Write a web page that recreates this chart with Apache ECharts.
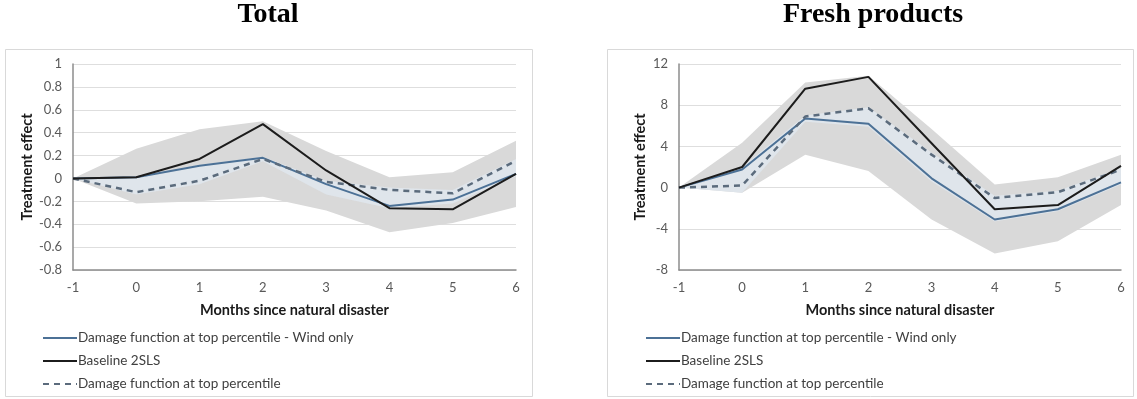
<!DOCTYPE html>
<html>
<head>
<meta charset="utf-8">
<script src="https://cdn.jsdelivr.net/npm/echarts@6/dist/echarts.min.js"></script>
<style>
html,body{margin:0;padding:0;background:#fff;}
#chart{width:1137px;height:399px;}
</style>
</head>
<body>
<div id="chart"></div>
<script>
// ---- data ----
var months = ['-1', '0', '1', '2', '3', '4', '5', '6'];

var totalWind     = [0, 0.01, 0.11, 0.18, -0.05, -0.24, -0.185, 0.04];
var totalBaseline = [0, 0.01, 0.17, 0.475, 0.07, -0.26, -0.27, 0.04];
var totalDamage   = [0, -0.12, -0.02, 0.17, -0.03, -0.10, -0.13, 0.155];
var totalCiUpper  = [0, 0.26, 0.43, 0.50, 0.24, 0.01, 0.055, 0.33];
var totalCiLower  = [0, -0.22, -0.20, -0.16, -0.28, -0.47, -0.39, -0.25];
var totalInUpper  = [0, 0.02, 0.12, 0.19, -0.02, -0.08, -0.10, 0.17];
var totalInLower  = [0, -0.14, -0.05, 0.15, -0.14, -0.26, -0.22, 0.02];

var freshWind     = [0, 1.75, 6.7, 6.2, 0.9, -3.1, -2.1, 0.5];
var freshBaseline = [0, 2.0, 9.6, 10.75, 4.3, -2.1, -1.7, 2.1];
var freshDamage   = [0, 0.2, 6.9, 7.7, 3.2, -1.0, -0.45, 1.75];
var freshCiUpper  = [0, 4.35, 10.2, 10.85, 5.7, 0.3, 1.0, 3.2];
var freshCiLower  = [0, -0.5, 3.2, 1.6, -3.1, -6.4, -5.2, -1.7];
var freshInUpper  = [0, 2.0, 7.0, 7.8, 3.4, -0.8, -0.3, 1.9];
var freshInLower  = [0, -0.5, 6.4, 5.9, 0.6, -3.3, -2.3, 0.3];

var titles = ['Total', 'Fresh products'];
var yAxisTitle = 'Treatment effect';
var xAxisTitle = 'Months since natural disaster';
var nameWind = 'Damage function at top percentile - Wind only';
var nameBase = 'Baseline 2SLS';
var nameDmg  = 'Damage function at top percentile';

// ---- build ----
function diff(u,l){ return u.map(function(x,i){ return +(x - l[i]).toFixed(4); }); }

var FONT = 'Lato';
var cGrey = '#d9d9d9', cInner = '#dfe6ec';
var cBlue = '#4c7196', cBlack = '#1c1c1c', cDash = '#5b6b7c';

function panelSeries(idx, wind, base, dmg, ciU, ciL, inU, inL){
  var common = {xAxisIndex: idx, yAxisIndex: idx, type: 'line', symbol: 'none', silent: true};
  return [
    Object.assign({}, common, {name: 'ciL'+idx, data: ciL, stack: 'ci'+idx, stackStrategy: 'all', lineStyle: {opacity: 0}}),
    Object.assign({}, common, {name: 'ciD'+idx, data: diff(ciU, ciL), stack: 'ci'+idx, stackStrategy: 'all', lineStyle: {opacity: 0}, areaStyle: {color: cGrey, opacity: 1}}),
    Object.assign({}, common, {name: 'inL'+idx, data: inL, stack: 'in'+idx, stackStrategy: 'all', lineStyle: {opacity: 0}}),
    Object.assign({}, common, {name: 'inD'+idx, data: diff(inU, inL), stack: 'in'+idx, stackStrategy: 'all', lineStyle: {opacity: 0}, areaStyle: {color: cInner, opacity: 0.9}}),
    Object.assign({}, common, {name: nameWind, data: wind, lineStyle: {color: cBlue, width: 2}, itemStyle: {color: cBlue}}),
    Object.assign({}, common, {name: nameDmg, data: dmg, lineStyle: {color: cDash, width: 2.5, type: [6, 5]}, itemStyle: {color: cDash}}),
    Object.assign({}, common, {name: nameBase, data: base, lineStyle: {color: cBlack, width: 2}, itemStyle: {color: cBlack}})
  ];
}

var grids = [
  {left: 73, right: 1137 - 516, top: 64, bottom: 399 - 270},
  {left: 679, right: 1137 - 1121, top: 64, bottom: 399 - 270}
];

function xAx(idx){
  return {
    gridIndex: idx, type: 'category', data: months, boundaryGap: false,
    name: xAxisTitle, nameLocation: 'middle', nameGap: 33,
    nameTextStyle: {fontFamily: FONT, fontWeight: 'bold', fontSize: 14.5, color: '#1a1a1a'},
    axisLine: {show: true, onZero: false, lineStyle: {color: '#8c8c8c', width: 1.5}},
    axisTick: {show: false},
    axisLabel: {fontFamily: FONT, fontSize: 13, color: '#595959', margin: 11, interval: 0},
    splitLine: {show: false}
  };
}
function yAx(idx, min, max, interval, gap){
  return {
    gridIndex: idx, type: 'value', min: min, max: max, interval: interval,
    name: yAxisTitle, nameLocation: 'middle', nameGap: gap, nameRotate: 90,
    nameTextStyle: {fontFamily: FONT, fontWeight: 'bold', fontSize: 14.5, color: '#1a1a1a'},
    axisLine: {show: true, onZero: false, lineStyle: {color: '#8c8c8c', width: 1.5}},
    axisTick: {show: false},
    axisLabel: {fontFamily: FONT, fontSize: 13, color: '#595959', margin: 11},
    splitLine: {show: true, lineStyle: {color: '#dedede', width: 1}}
  };
}

function legend(left){
  return {
    orient: 'vertical', left: left, top: 331, padding: 0, itemWidth: 34, itemHeight: 14, itemGap: 9,
    data: [nameWind, nameBase, nameDmg], selectedMode: false,
    itemStyle: {opacity: 0},
    textStyle: {fontFamily: FONT, fontSize: 13.5, color: '#404040', padding: [0,0,0,-4]}
  };
}

var option = {
  animation: false,
  backgroundColor: '#fff',
  grid: grids,
  xAxis: [xAx(0), xAx(1)],
  yAxis: [yAx(0, -0.8, 1, 0.2, 36), yAx(1, -8, 12, 4, 31)],
  legend: [legend(42), legend(645)],
  graphic: [
    {type: 'rect', shape: {x: 5.5, y: 49.5, width: 527, height: 347}, style: {fill: 'none', stroke: '#d9d9d9', lineWidth: 1}, z: -10},
    {type: 'rect', shape: {x: 607.5, y: 49.5, width: 526, height: 347}, style: {fill: 'none', stroke: '#d9d9d9', lineWidth: 1}, z: -10},
    {type: 'text', x: 268, y: 15, style: {text: titles[0], fontFamily: 'Liberation Serif', fontWeight: 'bold', fontSize: 28, fill: '#000', textAlign: 'center', textVerticalAlign: 'middle'}},
    {type: 'text', x: 873, y: 15, style: {text: titles[1], fontFamily: 'Liberation Serif', fontWeight: 'bold', fontSize: 28, fill: '#000', textAlign: 'center', textVerticalAlign: 'middle'}}
  ],
  series: [].concat(
    panelSeries(0, totalWind, totalBaseline, totalDamage, totalCiUpper, totalCiLower, totalInUpper, totalInLower),
    panelSeries(1, freshWind, freshBaseline, freshDamage, freshCiUpper, freshCiLower, freshInUpper, freshInLower)
  )
};

var chart = echarts.init(document.getElementById('chart'), null, {renderer: 'canvas'});
chart.setOption(option);
</script>
</body>
</html>
